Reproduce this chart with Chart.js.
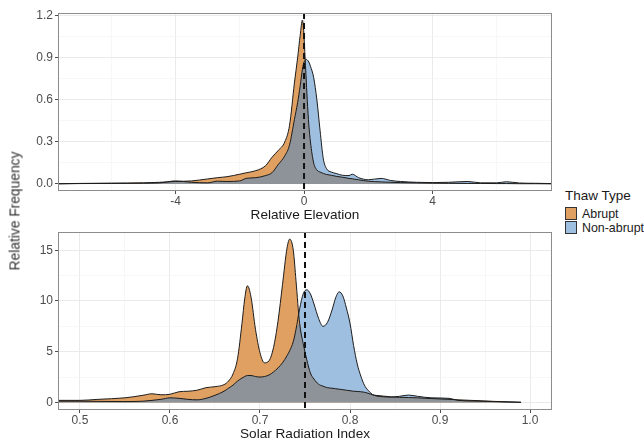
<!DOCTYPE html>
<html>
<head>
<meta charset="utf-8">
<script src="https://cdn.jsdelivr.net/npm/chart.js@4.4.1/dist/chart.umd.min.js"></script>
<style>
  body { margin: 0; width: 644px; height: 441px; background: #fff; position: relative; overflow: hidden; font-family: "Liberation Sans", Arial, sans-serif; }
  .panel { position: absolute; left: 0; width: 560px; }
  #topPanel { top: 0; height: 222px; }
  #bottomPanel { top: 222px; height: 219px; }
  #yTitle { position: absolute; left: 15px; top: 211px; transform: translate(-50%, -50%) rotate(-90deg); font-size: 13.8px; font-weight: normal; color: #333; white-space: nowrap; }
  #legend { position: absolute; left: 565px; top: 188px; color: #1a1a1a; }
  #legend .title { font-size: 13.5px; margin-bottom: 4px; }
  #legend .item { display: flex; align-items: center; height: 13px; font-size: 12.4px; margin-bottom: 1px; }
  #legend .key { width: 10px; height: 11px; border: 1px solid #333; margin-right: 5px; }
</style>
</head>
<body>
<div class="panel" id="topPanel"><canvas id="topChart"></canvas></div>
<div class="panel" id="bottomPanel"><canvas id="bottomChart"></canvas></div>
<div id="yTitle">Relative Frequency</div>
<div id="legend"></div>
<script>
// DATOS - PANEL SUPERIOR (Relative Elevation)
const elevX = [-7.66, -7, -6, -5, -4.5, -4, -3.5, -3, -2.7, -2.4, -2, -1.8, -1.5, -1.2, -1, -0.8, -0.6, -0.45, -0.3, -0.2, -0.12, -0.05,
  0, 0.03, 0.06, 0.1, 0.15, 0.2, 0.3, 0.4, 0.5, 0.6, 0.7, 0.85, 1, 1.2, 1.4, 1.5, 1.7, 2, 2.4, 2.7, 3, 3.5, 4, 4.5, 5.1, 5.5, 6, 6.3, 6.7, 7.2, 7.72];
const elevAbrupt = [0.002, 0.004, 0.006, 0.008, 0.012, 0.018, 0.022, 0.036, 0.045, 0.052, 0.07, 0.08, 0.095, 0.13, 0.19, 0.24, 0.30, 0.42, 0.72, 0.9, 1.06, 1.17,
  1.05, 0.91, 0.78, 0.6, 0.42, 0.3, 0.15, 0.1, 0.085, 0.075, 0.068, 0.062, 0.055, 0.048, 0.04, 0.037, 0.03, 0.02, 0.015, 0.012, 0.01, 0.008, 0.006, 0.005, 0.004, 0.004, 0.003, 0.003, 0.002, 0.002, 0.001];
const elevNonAbrupt = [0.001, 0.003, 0.004, 0.006, 0.008, 0.022, 0.012, 0.008, 0.02, 0.018, 0.022, 0.04, 0.045, 0.06, 0.08, 0.14, 0.2, 0.28, 0.46, 0.58, 0.70, 0.82,
  0.87, 0.88, 0.89, 0.885, 0.87, 0.84, 0.76, 0.6, 0.38, 0.18, 0.11, 0.085, 0.075, 0.062, 0.06, 0.07, 0.045, 0.03, 0.04, 0.025, 0.018, 0.012, 0.01, 0.012, 0.018, 0.008, 0.008, 0.016, 0.007, 0.005, 0.003];
const elevXMajor = [-4, 0, 4];
const elevXMinor = [-6, -2, 2, 6];
const elevYMajor = [0, 0.3, 0.6, 0.9, 1.2];
const elevYMinor = [0.15, 0.45, 0.75, 1.05];
const elevCutoff = 0;

// DATOS - PANEL INFERIOR (Solar Radiation Index)
const solarX = [0.4756, 0.5, 0.52, 0.55, 0.57, 0.58, 0.59, 0.6, 0.61, 0.62, 0.63, 0.64, 0.65, 0.66, 0.665, 0.67, 0.675, 0.68, 0.683, 0.686, 0.69, 0.695,
  0.70, 0.705, 0.71, 0.715, 0.72, 0.725, 0.73, 0.733, 0.737, 0.74, 0.744, 0.748, 0.752, 0.756, 0.76, 0.765, 0.77, 0.775, 0.78, 0.784, 0.788, 0.792,
  0.796, 0.8, 0.804, 0.808, 0.812, 0.816, 0.82, 0.825, 0.83, 0.837, 0.845, 0.855, 0.865, 0.875, 0.89, 0.91, 0.92, 0.94, 0.96, 0.99];
const solarAbrupt = [0.2, 0.2, 0.3, 0.45, 0.7, 0.85, 0.75, 0.8, 1.05, 1.1, 1.2, 1.45, 1.55, 1.75, 2.1, 2.8, 4.3, 7.8, 10.2, 11.5, 10.4, 7.2,
  4.9, 3.9, 4.1, 5.4, 8.0, 11.6, 15.2, 16.1, 15.0, 12.0, 7.8, 5.8, 4.2, 2.9, 2.3, 1.8, 1.6, 1.45, 1.4, 1.35, 1.3, 1.25,
  1.2, 1.15, 1.1, 1.08, 1.05, 1.0, 0.9, 0.75, 0.68, 0.62, 0.55, 0.5, 0.48, 0.45, 0.38, 0.3, 0.25, 0.18, 0.1, 0.02];
const solarNonAbrupt = [0.12, 0.12, 0.1, 0.08, 0.12, 0.2, 0.3, 0.45, 0.4, 0.3, 0.25, 0.4, 0.7, 1.1, 1.4, 1.7, 2.1, 2.4, 2.55, 2.65, 2.65, 2.55,
  2.5, 2.55, 2.7, 3.0, 3.4, 3.9, 4.6, 5.1, 6.0, 7.2, 9.2, 10.7, 11.1, 10.7, 9.7, 8.3, 7.5, 7.9, 9.1, 10.3, 10.9, 10.5,
  9.3, 7.8, 5.6, 3.8, 2.6, 1.7, 1.2, 0.78, 0.62, 0.55, 0.52, 0.6, 0.72, 0.6, 0.45, 0.4, 0.2, 0.13, 0.08, 0.0];
const solarXMajor = [0.5, 0.6, 0.7, 0.8, 0.9, 1.0];
const solarXMinor = [0.55, 0.65, 0.75, 0.85, 0.95];
const solarYMajor = [0, 5, 10, 15];
const solarYMinor = [2.5, 7.5, 12.5];
const solarCutoff = 0.75;

// LEYENDA
const thawTypes = ["Abrupt", "Non-abrupt"];
const thawColors = ["#E0A062", "#9EBFE0"];
const overlapColor = "#8E9399";

const FONT = "'Liberation Sans', Arial, sans-serif";
Chart.defaults.font.family = FONT;

// PLUGIN: linea vertical punteada + marco del panel
const cutoffPlugin = {
  id: "cutoff",
  afterDatasetsDraw(chart, args, opts) {
    const ctx = chart.ctx;
    const area = chart.chartArea;
    const px = chart.scales.x.getPixelForValue(opts.value);
    ctx.save();
    ctx.strokeStyle = "#111";
    ctx.lineWidth = 2;
    ctx.setLineDash([6, 4]);
    ctx.beginPath();
    ctx.moveTo(px, area.top);
    ctx.lineTo(px, area.bottom);
    ctx.stroke();
    ctx.restore();
  },
  afterDraw(chart) {
    const ctx = chart.ctx;
    const a = chart.chartArea;
    ctx.save();
    ctx.strokeStyle = "#8c8c8c";
    ctx.lineWidth = 1;
    ctx.strokeRect(a.left + 0.5, a.top + 0.5, a.right - a.left - 1, a.bottom - a.top - 1);
    ctx.restore();
  }
};

function axisOptions(min, max, majors, minors, fmt, fitSize, isX, title) {
  const all = majors.concat(minors).sort((p, q) => p - q);
  const isMajor = (v) => majors.some((m) => Math.abs(m - v) < 1e-9);
  const axis = {
    type: "linear",
    min: min,
    max: max,
    afterBuildTicks: (s) => { s.ticks = all.map((v) => ({ value: v })); },
    ticks: {
      autoSkip: false,
      maxRotation: 0,
      padding: isX ? 0 : 2,
      color: "#4d4d4d",
      font: { size: 12 },
      callback: (v) => (isMajor(v) ? fmt(v) : "")
    },
    grid: {
      color: (c) => (c.tick && isMajor(c.tick.value) ? "#EAEAEA" : "#F4F4F4"),
      lineWidth: (c) => (c.tick && isMajor(c.tick.value) ? 1 : 0.7),
      tickColor: (c) => (c.tick && isMajor(c.tick.value) ? "#4d4d4d" : "rgba(0,0,0,0)"),
      tickLength: 3
    },
    border: { display: false },
    afterFit: (s) => { if (isX) s.height = fitSize; else s.width = fitSize; }
  };
  if (title) {
    axis.title = { display: true, text: title, color: "#1a1a1a", font: { size: 13.6 }, padding: { top: 0, bottom: -1 } };
  }
  return axis;
}

function drawDensityChart(canvasId, xs, abrupt, nonAbrupt, xAxis, yAxis, cutoff, padTop) {
  const toPts = (arr) => xs.map((x, i) => ({ x: x, y: arr[i] }));
  const overlap = xs.map((x, i) => ({ x: x, y: Math.min(abrupt[i], nonAbrupt[i]) }));
  const common = { pointRadius: 0, fill: "origin", cubicInterpolationMode: "monotone", borderWidth: 1 };
  return new Chart(document.getElementById(canvasId), {
    type: "line",
    data: {
      datasets: [
        Object.assign({}, common, { label: "overlap", data: overlap, backgroundColor: overlapColor, borderColor: "rgba(0,0,0,0)" }),
        Object.assign({}, common, { label: thawTypes[0], data: toPts(abrupt), backgroundColor: thawColors[0], borderColor: "#1c1c1c" }),
        Object.assign({}, common, { label: thawTypes[1], data: toPts(nonAbrupt), backgroundColor: thawColors[1], borderColor: "#1c1c1c" })
      ]
    },
    options: {
      responsive: true,
      maintainAspectRatio: false,
      animation: false,
      events: [],
      layout: { padding: { top: padTop, right: 8, left: 0, bottom: 0 } },
      plugins: {
        legend: { display: false },
        tooltip: { enabled: false },
        filler: { drawTime: "beforeDatasetsDraw" },
        cutoff: { value: cutoff }
      },
      scales: { x: xAxis, y: yAxis }
    },
    plugins: [cutoffPlugin]
  });
}

drawDensityChart("topChart", elevX, elevAbrupt, elevNonAbrupt,
  axisOptions(-7.66, 7.72, elevXMajor, elevXMinor, (v) => String(v), 31, true, "Relative Elevation"),
  axisOptions(-0.05, 1.22, elevYMajor, elevYMinor, (v) => v.toFixed(1), 58, false, null),
  elevCutoff, 13);

drawDensityChart("bottomChart", solarX, solarAbrupt, solarNonAbrupt,
  axisOptions(0.4756, 1.0244, solarXMajor, solarXMinor, (v) => v.toFixed(1), 31, true, "Solar Radiation Index"),
  axisOptions(-0.75, 16.8, solarYMajor, solarYMinor, (v) => String(v), 58, false, null),
  solarCutoff, 10);

// LEYENDA HTML
let legend = document.getElementById("legend");
let legendHtml = `<div class="title">Thaw Type</div>`;
for (let i = 0; i < thawTypes.length; i++) {
  legendHtml += `<div class="item"><div class="key" style="background:${thawColors[i]}"></div>${thawTypes[i]}</div>`;
}
legend.innerHTML = legendHtml;
</script>
</body>
</html>
